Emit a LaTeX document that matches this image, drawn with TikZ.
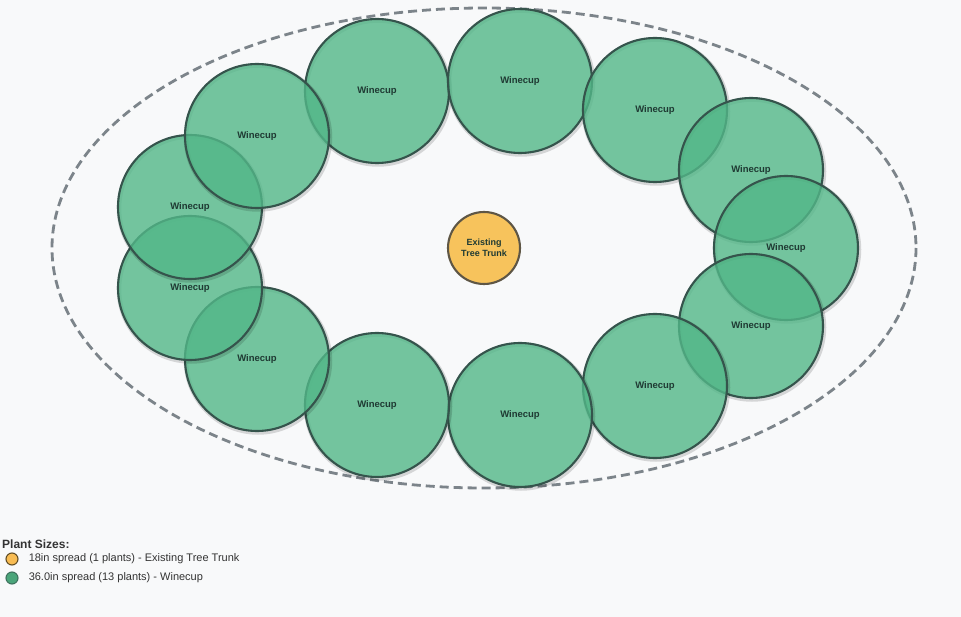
\documentclass[tikz,border=0pt]{standalone}
\usepackage{fontspec}
\setmainfont{Liberation Sans}
\usetikzlibrary{positioning}

\definecolor{bgpage}{HTML}{F8F9FA}
\definecolor{wine}{HTML}{52B788}
\definecolor{wineedge}{HTML}{35544C}
\definecolor{trunkfill}{HTML}{F7C35C}
\definecolor{trunkedge}{HTML}{5E5645}
\definecolor{bedline}{HTML}{7C848A}
\definecolor{plantink}{HTML}{1F3A33}
\definecolor{keyink}{HTML}{333333}

\begin{document}
\begin{tikzpicture}[
  x=1pt,y=-1pt,
  plant/.style={circle,draw=wineedge,line width=2.1pt,fill=wine,
    fill opacity=0.8,text opacity=1,minimum size=144pt,inner sep=0pt,
    text=plantink,font=\fontsize{9.5}{11}\selectfont\bfseries,
    preaction={draw=black,fill=none,draw opacity=0.14,line width=4.5pt,
      transform canvas={shift={(1pt,-1.5pt)}}}},
  trunk/.style={circle,draw=trunkedge,line width=2.1pt,fill=trunkfill,
    minimum size=72pt,inner sep=0pt,align=center,text=plantink,
    font=\fontsize{9}{11}\selectfont\bfseries},
  bed/.style={draw=bedline,line width=2.8pt,dash pattern=on 9pt off 5pt},
  key/.style={circle,minimum size=12pt,inner sep=0pt,line width=1.1pt},
  keytext/.style={anchor=west,inner sep=0pt,text=keyink,
    font=\fontsize{11}{13}\selectfont}
 ]
  \useasboundingbox (0,0) rectangle (961,617);
  \fill[bgpage] (0,0) rectangle (961,617);

  % bed outline
  \draw[bed] (484,248) ellipse [x radius=432,y radius=240];

  % ring of winecups
  \node[plant] (wc1) at (377,91) {Winecup};
  \node[plant] (wc2) at (520,81) {Winecup};
  \node[plant] (wc3) at (655,110) {Winecup};
  \node[plant] (wc4) at (751,170) {Winecup};
  \node[plant] (wc5) at (786,248) {Winecup};
  \node[plant] (wc6) at (751,326) {Winecup};
  \node[plant] (wc7) at (655,386) {Winecup};
  \node[plant] (wc8) at (520,415) {Winecup};
  \node[plant] (wc9) at (377,405) {Winecup};
  \node[plant] (wc10) at (257,359) {Winecup};
  \node[plant] (wc11) at (190,288) {Winecup};
  \node[plant] (wc12) at (190,207) {Winecup};
  \node[plant] (wc13) at (257,136) {Winecup};

  \node[trunk] (trunk) at (484,248) {Existing\\Tree Trunk};

  % legend
  \node[keytext,font=\fontsize{12}{14}\selectfont\bfseries] (keytitle)
    at (2,544) {Plant Sizes:};
  \node[key,draw=black!60!trunkfill,fill=trunkfill!90!orange] (keytrunk)
    at (12,559) {};
  \node[key,draw=wineedge!70!wine,fill=wine!90!black] (keywine)
    at (12,578) {};
  \node[keytext,right=10pt of keytrunk] (keytrunktxt)
    {18in spread (1 plants) - Existing Tree Trunk};
  \node[keytext,right=10pt of keywine] (keywinetxt)
    {36.0in spread (13 plants) - Winecup};
\end{tikzpicture}
\end{document}
